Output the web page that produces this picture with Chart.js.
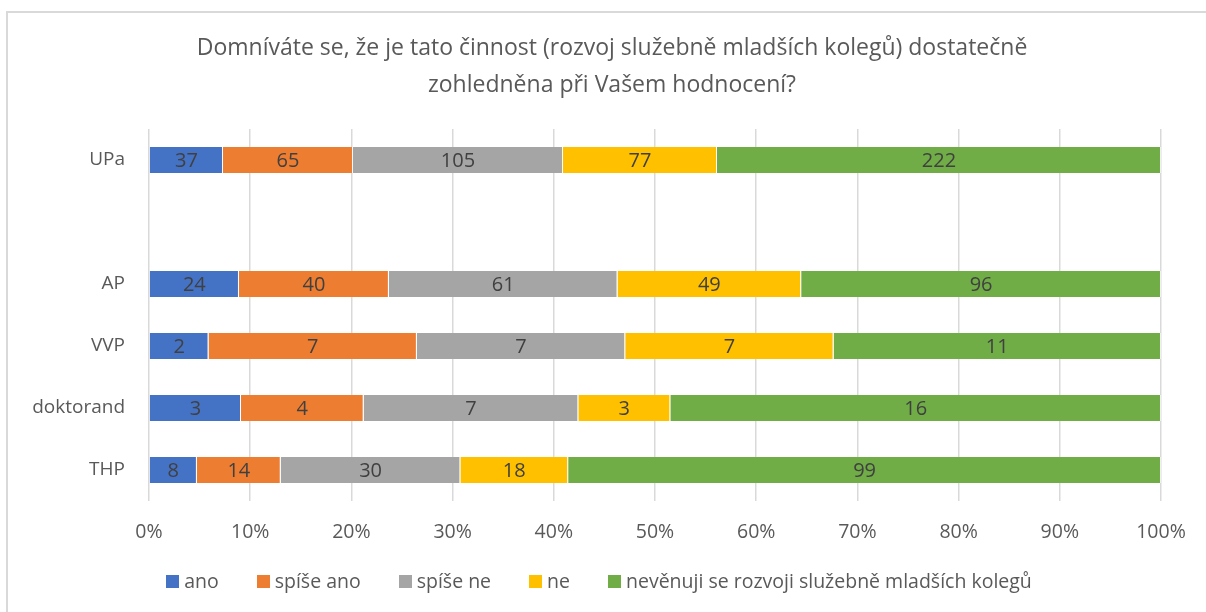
<!DOCTYPE html>
<html>
<head>
<meta charset="utf-8">
<script src="https://cdn.jsdelivr.net/npm/chart.js@4/dist/chart.umd.min.js"></script>
<style>
  body { margin: 0; background: #fff; overflow: hidden; }
  #frame { position: absolute; left: 6px; top: 11px; width: 1300px; height: 700px; border: 2px solid #d9d9d9; }
  #wrap { position: absolute; left: 0; top: 0; width: 1206px; height: 612px; }
  #legend { position: absolute; left: -4px; top: 569px; width: 1206px; display: flex; justify-content: center;
    font: 19.5px 'Open Sans', 'Noto Sans', sans-serif; line-height: 24px; color: #595959; }
  #legend .item { display: flex; align-items: center; margin: 0 19px; }
  #legend .box { width: 13px; height: 13px; margin-right: 5px; }
</style>
</head>
<body>
<div id="frame"></div>
<div id="wrap"><canvas id="chart" width="1206" height="612"></canvas></div>
<div id="legend"></div>
<script>
const titleLines = ["Domníváte se, že je tato činnost (rozvoj služebně mladších kolegů) dostatečně", "zohledněna při Vašem hodnocení?"];
const categories = ["UPa", "", "AP", "VVP", "doktorand", "THP"];
const seriesNames = ["ano", "spíše ano", "spíše ne", "ne", "nevěnuji se rozvoji služebně mladších kolegů"];
const ano = [37, null, 24, 2, 3, 8];
const spiseAno = [65, null, 40, 7, 4, 14];
const spiseNe = [105, null, 61, 7, 7, 30];
const ne = [77, null, 49, 7, 3, 18];
const nevenuji = [222, null, 96, 11, 16, 99];
const tickLabels = ["0%", "10%", "20%", "30%", "40%", "50%", "60%", "70%", "80%", "90%", "100%"];
const colors = ["#4472C4", "#ED7D31", "#A5A5A5", "#FFC000", "#70AD47"];

const counts = [ano, spiseAno, spiseNe, ne, nevenuji];
const totals = categories.map((c, i) => counts.reduce((s, arr) => s + (arr[i] || 0), 0));
const FONT = "'Open Sans', 'Noto Sans', sans-serif";

const datasets = counts.map((arr, k) => ({
  label: seriesNames[k],
  data: arr.map((v, i) => (v == null ? null : (v / totals[i]) * 100)),
  counts: arr,
  backgroundColor: colors[k],
  borderColor: "rgba(255,255,255,0.6)",
  borderWidth: { left: 0, right: 1, top: 0, bottom: 0 },
  borderSkipped: false,
  categoryPercentage: 1,
  barPercentage: 0.42,
}));

const barLabels = {
  id: "barLabels",
  afterDatasetsDraw(chart) {
    const ctx = chart.ctx;
    ctx.save();
    ctx.font = "20px " + FONT;
    ctx.fillStyle = "#404040";
    ctx.textAlign = "center";
    ctx.textBaseline = "middle";
    chart.data.datasets.forEach((ds, k) => {
      chart.getDatasetMeta(k).data.forEach((el, i) => {
        const v = ds.counts[i];
        if (v == null) return;
        ctx.fillText(String(v), (el.x + el.base) / 2, el.y + 1);
      });
    });
    ctx.restore();
  },
};

// title centred on the chart frame rather than the plot box
const frameTitle = {
  id: "frameTitle",
  afterDraw(chart) {
    const ctx = chart.ctx;
    ctx.save();
    ctx.font = "23px " + FONT;
    ctx.fillStyle = "#595959";
    ctx.textAlign = "center";
    ctx.textBaseline = "middle";
    titleLines.forEach((line, i) => ctx.fillText(line, 612, 48 + i * 37));
    ctx.restore();
  },
};

const chart = new Chart(document.getElementById("chart"), {
  type: "bar",
  data: { labels: categories, datasets: datasets },
  plugins: [barLabels, frameTitle],
  options: {
    indexAxis: "y",
    responsive: false,
    animation: false,
    layout: { padding: { top: 129, right: 45, bottom: 66, left: 0 } },
    scales: {
      x: {
        stacked: true,
        min: 0,
        max: 100,
        ticks: {
          stepSize: 10,
          callback: (v, i) => tickLabels[i],
          color: "#595959",
          font: { family: FONT, size: 19.5 },
          padding: 20,
        },
        grid: { color: "#d9d9d9", lineWidth: 1.5, drawTicks: false },
        border: { display: false },
        afterFit: (scale) => { scale.height = 45; },
      },
      y: {
        stacked: true,
        ticks: { color: "#595959", font: { family: FONT, size: 19 }, padding: 16 },
        grid: { display: false },
        border: { display: false },
        afterFit: (scale) => { scale.width = 149; },
      },
    },
    plugins: {
      title: { display: false },
      legend: { display: false },
      tooltip: { enabled: false },
    },
  },
});

// legend built from the chart's datasets
const legendEl = document.getElementById("legend");
chart.data.datasets.forEach((ds) => {
  const item = document.createElement("div");
  item.className = "item";
  const box = document.createElement("span");
  box.className = "box";
  box.style.background = ds.backgroundColor;
  const txt = document.createElement("span");
  txt.textContent = ds.label;
  item.appendChild(box);
  item.appendChild(txt);
  legendEl.appendChild(item);
});
</script>
</body>
</html>
